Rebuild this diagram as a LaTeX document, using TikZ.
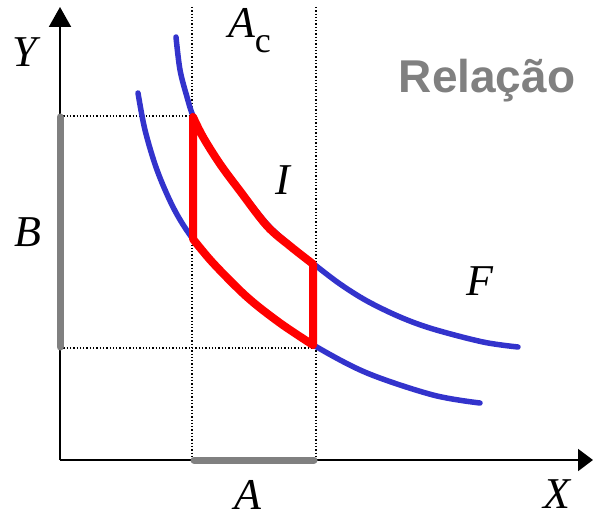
\documentclass[tikz,border=0pt]{standalone}
\usepackage{fontspec}
\setmainfont{Liberation Serif}
\newfontfamily\relfont{Liberation Sans}
\usetikzlibrary{arrows.meta}
\definecolor{curveblue}{HTML}{3333CC}
\definecolor{boxred}{HTML}{FF0000}
\definecolor{bargray}{HTML}{808080}
\tikzset{
  axisline/.style={line width=2pt,black},
  guide/.style={line width=1.3pt,black,dotted},
  curveline/.style={line width=5.5pt,curveblue,line cap=round},
  redline/.style={line width=8pt,boxred,line join=round},
  graybar/.style={line width=7pt,bargray,line cap=round},
  lbl/.style={inner sep=0pt,outer sep=0pt,anchor=base,font=\fontsize{44}{44}\selectfont\itshape},
}
\begin{document}
\begin{tikzpicture}[x=1pt,y=-1pt]
\useasboundingbox (0,0) rectangle (593,518);
% coordinates
\coordinate (O) at (60,460);
\coordinate (ytip) at (60,7);
\coordinate (xtip) at (593,460);
\coordinate (p1) at (193,117);
\coordinate (p2) at (313,264);
\coordinate (p3) at (313,345);
\coordinate (p4) at (193,239);
\coordinate (yb1) at (60,117);
\coordinate (yb2) at (60,347);
\coordinate (xb1) at (194,460);
\coordinate (xb2) at (314,460);
\coordinate (v1t) at (192,7);
\coordinate (v1b) at (192,460);
\coordinate (v2t) at (316,7);
\coordinate (v2b) at (316,460);
\coordinate (h1a) at (60,116);
\coordinate (h1b) at (192,116);
\coordinate (h2a) at (60,348);
\coordinate (h2b) at (316,348);
% dotted guides
\draw[guide] (v1t) -- (v1b);
\draw[guide] (v2t) -- (v2b);
\draw[guide] (h1a) -- (h1b);
\draw[guide] (h2a) -- (h2b);
% axes
\draw[axisline,-{Triangle[length=20pt,width=22pt]}] (O) -- (ytip);
\draw[axisline,-{Triangle[length=15pt,width=22pt]}] (O) -- (xtip);
% gray bars
\draw[graybar] (yb1) -- (yb2);
\draw[graybar] (xb1) -- (xb2);
% blue curves
\draw[curveline] plot[smooth,tension=0.55] coordinates {(176,37) (180,70) (187,97) (193,116) (203,136) (220,163) (240,190) (267,224) (290,245) (315,265) (340,284) (367,301) (400,317) (433,329) (483,342) (518,347)};
\draw[curveline] plot[smooth,tension=0.55] coordinates {(138,93) (145,130) (157,170) (173,207) (190,235) (213,263) (247,297) (280,323) (315,346) (367,373) (433,395) (480,403)};
% red region
\draw[redline] (p1) -- plot[smooth,tension=0.55] coordinates {(193,117) (203,137) (220,164) (240,191) (267,226) (290,246) (313,264)}
  -- (p3) -- plot[smooth,tension=0.55] coordinates {(313,345) (280,323) (247,297) (213,263) (193,239)} -- cycle;
% labels
\node[lbl] (ylab) at (25,67) {Y};
\node[lbl] (blab) at (28,247) {B};
\node[lbl] (ilab) at (283,195) {I};
\node[lbl] (flab) at (480,295) {F};
\node[lbl] (xlab) at (557,508) {X};
\node[lbl] (alab) at (248,509) {A};
\node[lbl,anchor=base west] (aclab) at (228,38) {A\raisebox{-15pt}{\upshape\fontsize{36}{36}\selectfont c}};
\node[inner sep=0pt,anchor=base,text=bargray,font=\relfont\bfseries\fontsize{46}{46}\selectfont] (rel) at (487,93) {Relação};
\end{tikzpicture}
\end{document}
